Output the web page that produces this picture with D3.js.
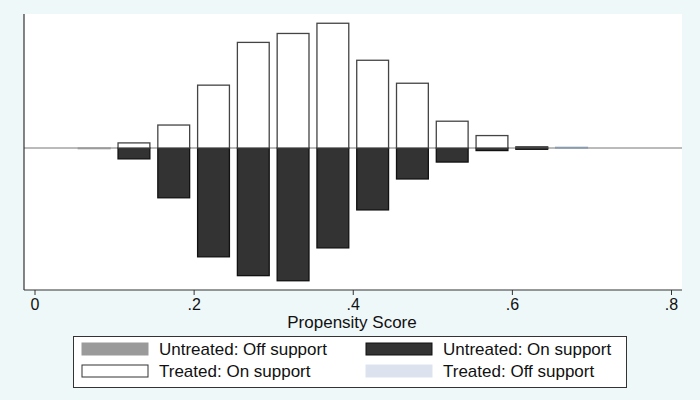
<!DOCTYPE html>
<html>
<head>
<meta charset="utf-8">
<script src="https://cdn.jsdelivr.net/npm/d3@7"></script>
<style>
  body { margin: 0; background: #eff8f9; }
  text { font-family: "Liberation Sans", Arial, sans-serif; fill: #111; }
</style>
</head>
<body>
<div id="chart"></div>
<script>
// bin centres (bin width .05)
var bins = [0.075, 0.125, 0.175, 0.225, 0.275, 0.325, 0.375, 0.425, 0.475, 0.525, 0.575, 0.625, 0.675];
// densities
var treatedOn    = [0, 0.16, 0.72, 1.97, 3.31, 3.59, 3.91, 2.75, 2.03, 0.84, 0.39, 0.04, 0];
var treatedOff   = [0, 0, 0, 0, 0, 0, 0, 0, 0, 0, 0, 0, 0.02];
var untreatedOn  = [0, 0.34, 1.56, 3.41, 4.0, 4.16, 3.13, 1.94, 0.97, 0.44, 0.08, 0.04, 0];
var untreatedOff = [0.02, 0, 0, 0, 0, 0, 0, 0, 0, 0, 0, 0, 0];
var xTicks = [0, 0.2, 0.4, 0.6, 0.8];
var xTickLabels = ["0", ".2", ".4", ".6", ".8"];
var legendLabels = ["Untreated: Off support", "Untreated: On support", "Treated: On support", "Treated: Off support"];

var width = 700, height = 400;
var svg = d3.select("#chart").append("svg")
  .attr("width", width).attr("height", height);

svg.append("rect").attr("width", width).attr("height", height).attr("fill", "#eff8f9");

// plot region
var pLeft = 24, pRight = 682, pTop = 14, pBottom = 290;
svg.append("rect")
  .attr("x", pLeft).attr("y", pTop)
  .attr("width", pRight - pLeft).attr("height", pBottom - pTop)
  .attr("fill", "#fff");

var x = d3.scaleLinear().domain([0, 0.8]).range([34.5, 671]);
var y = d3.scaleLinear().domain([-4.45, 4.2]).range([pBottom, pTop]);
var barW = 0.04;

// zero line
svg.append("line")
  .attr("x1", pLeft).attr("x2", pRight)
  .attr("y1", y(0)).attr("y2", y(0))
  .style("stroke", "#777").style("stroke-width", 1);

function drawBars(vals, sign, fill, stroke) {
  svg.append("g").selectAll("rect")
    .data(bins.map(function (b, i) { return { b: b, v: vals[i] }; }).filter(function (d) { return d.v > 0; }))
    .enter().append("rect")
    .attr("x", function (d) { return x(d.b - barW / 2); })
    .attr("width", function (d) { return x(d.b + barW / 2) - x(d.b - barW / 2); })
    .attr("y", function (d) { return sign > 0 ? y(d.v) : y(0); })
    .attr("height", function (d) { return Math.abs(y(d.v) - y(0)); })
    .attr("fill", fill)
    .attr("stroke", stroke)
    .attr("stroke-width", 1.3);
}

drawBars(untreatedOff, -1, "#9a9a9a", "#9a9a9a");
drawBars(untreatedOn, -1, "#333", "#111");
drawBars(treatedOn, 1, "#fff", "#444");
drawBars(treatedOff, 1, "#dde3ee", "#8a9bb0");

// axes
svg.append("line")
  .attr("x1", pLeft).attr("x2", pLeft).attr("y1", pTop).attr("y2", pBottom)
  .style("stroke", "#333").style("stroke-width", 1.2);

var xAxis = d3.axisBottom(x)
  .tickValues(xTicks)
  .tickSize(5)
  .tickFormat(function (d, i) { return xTickLabels[i]; });

var gx = svg.append("g")
  .attr("transform", "translate(0," + pBottom + ")")
  .call(xAxis);
gx.select(".domain").remove();
gx.append("line").attr("x1", pLeft).attr("x2", pRight)
  .style("stroke", "#333").style("stroke-width", 1.2);
gx.selectAll(".tick line").style("stroke", "#333");
gx.selectAll(".tick text")
  .attr("y", 9)
  .style("font-size", "16px")
  .style("font-family", "Liberation Sans, Arial, sans-serif")
  .attr("fill", "#111");

svg.append("text")
  .attr("x", 352).attr("y", 328)
  .attr("text-anchor", "middle")
  .style("font-size", "17px")
  .text("Propensity Score");

// legend
var lg = svg.append("g");
lg.append("rect")
  .attr("x", 73.5).attr("y", 336.5).attr("width", 553).attr("height", 51)
  .attr("fill", "#fff").attr("stroke", "#333").attr("stroke-width", 1);

var legendStyles = [
  { fill: "#9a9a9a", stroke: "#9a9a9a" },
  { fill: "#333", stroke: "#111" },
  { fill: "#fff", stroke: "#333" },
  { fill: "#dde3ee", stroke: "#dde3ee" }
];
legendLabels.forEach(function (lab, i) {
  var col = i % 2, row = Math.floor(i / 2);
  var sx = col === 0 ? 82 : 366;
  var sy = row === 0 ? 343 : 365;
  lg.append("rect")
    .attr("x", sx).attr("y", sy).attr("width", 66).attr("height", 12)
    .attr("fill", legendStyles[i].fill)
    .attr("stroke", legendStyles[i].stroke);
  lg.append("text")
    .attr("x", sx + 77).attr("y", sy + 12)
    .style("font-size", "17px")
    .text(lab);
});
</script>
</body>
</html>
